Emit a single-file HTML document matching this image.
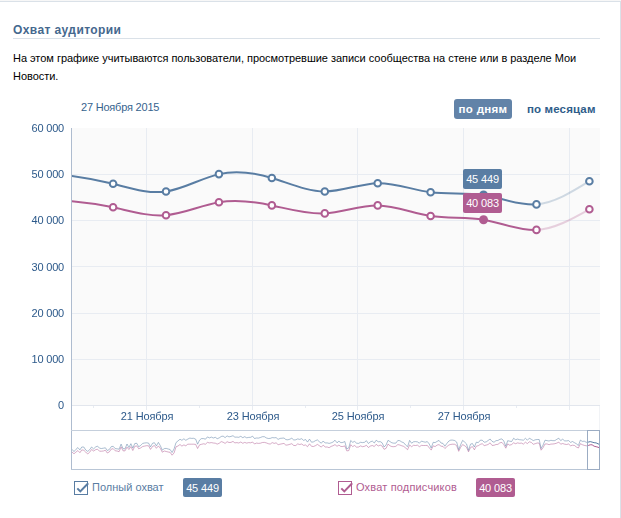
<!DOCTYPE html>
<html>
<head>
<meta charset="utf-8">
<title>Охват аудитории</title>
<style>
html,body{margin:0;padding:0;background:#fff;}
body{width:621px;height:518px;position:relative;overflow:hidden;font-family:"Liberation Sans",sans-serif;font-size:11px;color:#000;}
.abs{position:absolute;white-space:nowrap;}
#topb{left:0;top:0;width:621px;height:1px;background:#f7f7f7;border-bottom:1px solid #dae1e8;}
#rightb{left:620px;top:1px;width:1px;height:517px;background:#dae1e8;}
#title{left:13px;top:21px;font-size:12px;font-weight:bold;color:#45688e;line-height:18px;letter-spacing:0.4px;}
#hline{left:13px;top:38px;width:587px;height:1px;background:#dae1e8;}
.desc{left:13px;color:#000;font-size:11px;line-height:14px;letter-spacing:-0.03px;}
#date{left:81px;top:100px;color:#36638e;font-size:11px;line-height:14px;letter-spacing:-0.2px;}
#btn1{left:454px;top:99px;width:58px;height:20px;background:#6283a8;border-radius:3px;color:#fff;font-weight:bold;font-size:11.5px;letter-spacing:0.33px;line-height:20px;text-align:center;}
#btn2{left:527px;top:99px;color:#2f5d8a;font-weight:bold;font-size:11.5px;line-height:20px;letter-spacing:0.14px;}
.yl{left:0;width:64px;text-align:right;color:#2c598a;font-size:11px;line-height:14px;will-change:transform;letter-spacing:-0.2px;}
.xl{width:80px;text-align:center;color:#2c598a;font-size:11px;line-height:14px;top:409px;will-change:transform;letter-spacing:-0.1px;}
.tip{color:#fff;font-size:11px;line-height:20px;text-align:center;border-radius:2px;letter-spacing:-0.15px;}
.leg{font-size:11px;line-height:14px;top:480px;}
.badge{top:478px;height:19px;line-height:21px;color:#fff;font-size:11px;text-align:center;border-radius:2px;letter-spacing:-0.15px;}
</style>
</head>
<body>
<div class="abs" id="topb"></div>
<div class="abs" id="rightb"></div>
<div class="abs" id="title">Охват аудитории</div>
<div class="abs" id="hline"></div>
<div class="abs desc" style="top:51px;">На этом графике учитываются пользователи, просмотревшие записи сообщества на стене или в разделе Мои</div>
<div class="abs desc" style="top:69px;">Новости.</div>
<div class="abs" id="date">27 Ноября 2015</div>
<div class="abs" id="btn1">по дням</div>
<div class="abs" id="btn2">по месяцам</div>

<svg class="abs" id="chart" style="left:0;top:0;" width="621" height="518" viewBox="0 0 621 518">
  <!-- plot background -->
  <rect x="72" y="128" width="528" height="277" fill="#fafafa"/>
  <!-- horizontal grid -->
  <g stroke="#e8ecf2" stroke-width="1" shape-rendering="crispEdges">
    <line x1="72" x2="600" y1="174.5" y2="174.5"/>
    <line x1="72" x2="600" y1="220.5" y2="220.5"/>
    <line x1="72" x2="600" y1="266.5" y2="266.5"/>
    <line x1="72" x2="600" y1="313.5" y2="313.5"/>
    <line x1="72" x2="600" y1="359.5" y2="359.5"/>
  </g>
  <!-- vertical grid -->
  <g stroke="#e8ecf2" stroke-width="1" shape-rendering="crispEdges">
    <line x1="146.5" x2="146.5" y1="128" y2="410"/>
    <line x1="252.5" x2="252.5" y1="128" y2="410"/>
    <line x1="357.5" x2="357.5" y1="128" y2="410"/>
    <line x1="463.5" x2="463.5" y1="128" y2="410"/>
    <line x1="569.5" x2="569.5" y1="128" y2="410"/>
  </g>
  <!-- small ticks -->
  <g stroke="#e8ecf2" stroke-width="1" shape-rendering="crispEdges">
    <line x1="93.5" x2="93.5" y1="405" y2="408"/>
    <line x1="199.5" x2="199.5" y1="405" y2="408"/>
    <line x1="305.5" x2="305.5" y1="405" y2="408"/>
    <line x1="410.5" x2="410.5" y1="405" y2="408"/>
    <line x1="516.5" x2="516.5" y1="405" y2="408"/>
  </g>
  <!-- x axis -->
  <line x1="72" x2="600" y1="405.5" y2="405.5" stroke="#e2e6ed" shape-rendering="crispEdges"/>
  <!-- y axis -->
  <line x1="71.5" x2="71.5" y1="128" y2="470" stroke="#aebccf" shape-rendering="crispEdges"/>
  <!-- mini chart frame -->
  <line x1="71" x2="600" y1="430.5" y2="430.5" stroke="#c5cfdc" shape-rendering="crispEdges"/>
  <line x1="71" x2="600" y1="469.5" y2="469.5" stroke="#b9c6d6" shape-rendering="crispEdges"/>
  <line x1="599.5" x2="599.5" y1="406" y2="430" stroke="#f1f3f6" shape-rendering="crispEdges"/>
  <g id="mini"><defs><clipPath id="selclip"><rect x="588" y="431" width="12" height="39"/></clipPath><clipPath id="unselclip"><rect x="72" y="431" width="516" height="39"/></clipPath></defs><g fill="none" stroke-width="1" stroke-linejoin="round"><g clip-path="url(#unselclip)" stroke-opacity="0.5"><path d="M72.0 452.0 L74.0 453.8 L75.9 452.1 L77.9 450.6 L79.9 452.7 L81.8 449.9 L83.8 450.3 L85.7 452.0 L87.7 454.0 L89.7 452.2 L91.6 449.5 L93.6 451.0 L95.6 449.7 L97.5 449.2 L99.5 451.2 L101.4 451.2 L103.4 451.0 L105.4 450.2 L107.3 453.0 L109.3 451.9 L111.3 449.1 L113.2 448.7 L115.2 450.8 L117.1 451.0 L119.1 451.7 L121.1 446.9 L123.0 450.8 L125.0 450.9 L127.0 447.1 L128.9 449.5 L130.9 446.6 L132.8 450.5 L134.8 446.3 L136.8 445.9 L138.7 448.8 L140.7 447.9 L142.7 446.5 L144.6 446.1 L146.6 445.7 L148.6 445.8 L150.5 449.4 L152.5 446.5 L154.4 445.5 L156.4 448.3 L158.4 445.9 L160.3 448.3 L162.3 452.2 L164.3 451.0 L166.2 451.5 L168.2 452.0 L170.1 452.3 L172.1 455.2 L174.1 452.9 L176.0 446.8 L178.0 446.0 L180.0 444.5 L181.9 446.1 L183.9 444.9 L185.8 445.8 L187.8 444.2 L189.8 444.2 L191.7 444.2 L193.7 444.2 L195.7 444.4 L197.6 448.5 L199.6 444.8 L201.5 444.3 L203.5 443.8 L205.5 444.2 L207.4 442.4 L209.4 442.9 L211.4 442.6 L213.3 443.0 L215.3 443.2 L217.2 444.1 L219.2 443.3 L221.2 441.6 L223.1 442.2 L225.1 443.4 L227.1 441.7 L229.0 442.5 L231.0 442.4 L233.0 441.4 L234.9 442.9 L236.9 442.6 L238.8 443.0 L240.8 442.0 L242.8 443.3 L244.7 442.4 L246.7 443.1 L248.7 442.6 L250.6 442.8 L252.6 442.0 L254.5 444.0 L256.5 443.1 L258.5 443.4 L260.4 443.2 L262.4 442.5 L264.4 442.4 L266.3 442.9 L268.3 443.7 L270.2 444.1 L272.2 442.6 L274.2 443.4 L276.1 442.8 L278.1 444.7 L280.1 444.2 L282.0 443.8 L284.0 443.4 L285.9 445.2 L287.9 444.9 L289.9 444.3 L291.8 443.7 L293.8 445.5 L295.8 445.5 L297.7 443.9 L299.7 444.5 L301.7 444.0 L303.6 445.4 L305.6 445.0 L307.5 446.7 L309.5 443.8 L311.5 446.3 L313.4 446.5 L315.4 445.7 L317.4 444.4 L319.3 445.7 L321.3 447.1 L323.2 445.1 L325.2 447.0 L327.2 447.0 L329.1 447.7 L331.1 446.4 L333.1 445.7 L335.0 444.6 L337.0 446.3 L338.9 445.1 L340.9 446.5 L342.9 446.5 L344.8 445.9 L346.8 450.9 L348.8 450.6 L350.7 444.7 L352.7 446.6 L354.6 445.5 L356.6 447.2 L358.6 447.0 L360.5 445.9 L362.5 446.7 L364.5 446.3 L366.4 445.3 L368.4 447.5 L370.3 446.1 L372.3 445.5 L374.3 446.5 L376.2 444.3 L378.2 446.0 L380.2 445.1 L382.1 446.0 L384.1 449.3 L386.1 448.3 L388.0 444.1 L390.0 445.8 L391.9 446.6 L393.9 446.7 L395.9 446.3 L397.8 444.6 L399.8 445.0 L401.8 445.8 L403.7 446.4 L405.7 448.0 L407.6 449.7 L409.6 444.9 L411.6 446.7 L413.5 445.3 L415.5 445.5 L417.5 445.2 L419.4 446.7 L421.4 445.4 L423.3 445.5 L425.3 445.5 L427.3 445.4 L429.2 447.7 L431.2 450.1 L433.2 445.8 L435.1 446.6 L437.1 445.1 L439.0 444.6 L441.0 446.2 L443.0 446.4 L444.9 448.5 L446.9 446.6 L448.9 445.0 L450.8 444.4 L452.8 444.2 L454.8 444.3 L456.7 445.7 L458.7 451.3 L460.6 447.4 L462.6 444.6 L464.6 445.7 L466.5 447.2 L468.5 451.8 L470.5 447.6 L472.4 446.6 L474.4 449.8 L476.3 446.2 L478.3 445.7 L480.3 444.4 L482.2 443.7 L484.2 445.6 L486.2 445.1 L488.1 444.5 L490.1 442.8 L492.0 445.4 L494.0 445.3 L496.0 444.5 L497.9 444.4 L499.9 442.8 L501.9 442.4 L503.8 444.6 L505.8 448.2 L507.7 443.9 L509.7 445.2 L511.7 444.5 L513.6 442.8 L515.6 443.7 L517.6 442.9 L519.5 443.3 L521.5 443.1 L523.4 444.1 L525.4 442.2 L527.4 443.6 L529.3 441.8 L531.3 442.4 L533.3 444.3 L535.2 443.7 L537.2 443.0 L539.2 443.1 L541.1 450.2 L543.1 447.6 L545.0 444.0 L547.0 443.9 L549.0 444.7 L550.9 444.1 L552.9 444.0 L554.9 443.7 L556.8 443.1 L558.8 442.1 L560.7 444.2 L562.7 443.5 L564.7 444.2 L566.6 444.5 L568.6 444.0 L570.6 445.8 L572.5 445.2 L574.5 445.5 L576.4 447.0 L578.4 448.0 L580.4 443.7 L582.3 444.7 L584.3 445.4 L586.3 445.8 L588.2 445.5 L590.2 444.8 L592.1 444.8 L594.1 446.2 L596.1 446.7 L598.0 447.2 L600.0 448.1" stroke="#b05c91"/><path d="M72.0 449.3 L74.0 451.6 L75.9 449.4 L77.9 447.6 L79.9 449.9 L81.8 447.0 L83.8 447.0 L85.7 450.0 L87.7 451.4 L89.7 449.7 L91.6 447.0 L93.6 448.9 L95.6 447.0 L97.5 446.1 L99.5 448.2 L101.4 448.5 L103.4 448.2 L105.4 447.8 L107.3 450.5 L109.3 449.5 L111.3 446.6 L113.2 446.3 L115.2 448.6 L117.1 448.8 L119.1 449.2 L121.1 444.1 L123.0 448.7 L125.0 448.9 L127.0 444.0 L128.9 447.5 L130.9 443.7 L132.8 448.1 L134.8 443.5 L136.8 443.3 L138.7 446.8 L140.7 445.4 L142.7 443.4 L144.6 443.0 L146.6 442.8 L148.6 443.1 L150.5 446.9 L152.5 443.3 L154.4 442.7 L156.4 445.9 L158.4 442.4 L160.3 445.6 L162.3 450.1 L164.3 448.6 L166.2 448.4 L168.2 449.0 L170.1 449.5 L172.1 452.5 L174.1 448.8 L176.0 442.6 L178.0 440.9 L180.0 439.2 L181.9 440.3 L183.9 438.8 L185.8 440.3 L187.8 439.1 L189.8 438.1 L191.7 438.4 L193.7 438.3 L195.7 439.2 L197.6 444.2 L199.6 440.0 L201.5 438.6 L203.5 438.6 L205.5 439.2 L207.4 436.9 L209.4 437.9 L211.4 437.1 L213.3 438.0 L215.3 437.3 L217.2 438.7 L219.2 437.9 L221.2 436.5 L223.1 436.1 L225.1 437.6 L227.1 435.9 L229.0 436.9 L231.0 436.4 L233.0 435.7 L234.9 437.2 L236.9 437.1 L238.8 437.3 L240.8 436.3 L242.8 437.7 L244.7 436.7 L246.7 437.8 L248.7 437.4 L250.6 437.3 L252.6 436.2 L254.5 438.5 L256.5 438.0 L258.5 438.1 L260.4 437.5 L262.4 436.7 L264.4 436.7 L266.3 437.9 L268.3 438.5 L270.2 438.4 L272.2 437.6 L274.2 437.8 L276.1 437.6 L278.1 439.4 L280.1 438.4 L282.0 438.2 L284.0 438.0 L285.9 439.6 L287.9 439.8 L289.9 439.2 L291.8 438.2 L293.8 440.0 L295.8 439.8 L297.7 438.9 L299.7 439.4 L301.7 438.7 L303.6 440.4 L305.6 439.5 L307.5 442.1 L309.5 439.1 L311.5 442.2 L313.4 441.9 L315.4 440.7 L317.4 439.9 L319.3 441.7 L321.3 443.2 L323.2 441.0 L325.2 443.0 L327.2 442.9 L329.1 443.4 L331.1 442.9 L333.1 442.0 L335.0 440.2 L337.0 442.8 L338.9 441.2 L340.9 442.7 L342.9 442.4 L344.8 441.5 L346.8 449.0 L348.8 447.8 L350.7 440.5 L352.7 442.3 L354.6 441.4 L356.6 443.2 L358.6 443.4 L360.5 442.3 L362.5 442.6 L364.5 442.3 L366.4 440.7 L368.4 443.5 L370.3 441.9 L372.3 441.1 L374.3 443.0 L376.2 440.2 L378.2 441.8 L380.2 441.6 L382.1 442.8 L384.1 447.0 L386.1 444.9 L388.0 440.3 L390.0 441.6 L391.9 442.8 L393.9 443.2 L395.9 443.1 L397.8 440.5 L399.8 440.7 L401.8 442.0 L403.7 442.7 L405.7 445.1 L407.6 446.7 L409.6 440.4 L411.6 443.2 L413.5 441.8 L415.5 441.6 L417.5 441.9 L419.4 443.2 L421.4 441.1 L423.3 441.7 L425.3 442.2 L427.3 441.6 L429.2 443.9 L431.2 448.0 L433.2 442.3 L435.1 442.6 L437.1 441.4 L439.0 440.4 L441.0 443.0 L443.0 443.4 L444.9 446.2 L446.9 443.4 L448.9 441.0 L450.8 440.1 L452.8 440.1 L454.8 440.6 L456.7 442.1 L458.7 449.7 L460.6 444.8 L462.6 440.4 L464.6 442.0 L466.5 443.9 L468.5 450.4 L470.5 444.2 L472.4 443.5 L474.4 447.0 L476.3 442.2 L478.3 442.6 L480.3 440.2 L482.2 440.2 L484.2 442.2 L486.2 441.9 L488.1 440.5 L490.1 439.0 L492.0 441.3 L494.0 442.3 L496.0 440.6 L497.9 440.5 L499.9 439.3 L501.9 438.9 L503.8 441.0 L505.8 446.3 L507.7 440.7 L509.7 441.2 L511.7 441.5 L513.6 438.3 L515.6 439.7 L517.6 439.1 L519.5 439.7 L521.5 439.9 L523.4 440.2 L525.4 438.3 L527.4 440.2 L529.3 438.2 L531.3 439.3 L533.3 440.6 L535.2 439.8 L537.2 439.5 L539.2 439.5 L541.1 448.5 L543.1 445.0 L545.0 440.2 L547.0 440.6 L549.0 441.0 L550.9 440.3 L552.9 440.7 L554.9 440.6 L556.8 439.3 L558.8 438.2 L560.7 440.6 L562.7 439.2 L564.7 440.9 L566.6 440.9 L568.6 440.6 L570.6 442.4 L572.5 441.5 L574.5 442.7 L576.4 443.8 L578.4 445.5 L580.4 440.1 L582.3 441.4 L584.3 441.2 L586.3 442.3 L588.2 442.1 L590.2 441.6 L592.1 442.1 L594.1 442.7 L596.1 442.9 L598.0 443.8 L600.0 444.6" stroke="#597da3"/></g><g clip-path="url(#selclip)"><path d="M72.0 452.0 L74.0 453.8 L75.9 452.1 L77.9 450.6 L79.9 452.7 L81.8 449.9 L83.8 450.3 L85.7 452.0 L87.7 454.0 L89.7 452.2 L91.6 449.5 L93.6 451.0 L95.6 449.7 L97.5 449.2 L99.5 451.2 L101.4 451.2 L103.4 451.0 L105.4 450.2 L107.3 453.0 L109.3 451.9 L111.3 449.1 L113.2 448.7 L115.2 450.8 L117.1 451.0 L119.1 451.7 L121.1 446.9 L123.0 450.8 L125.0 450.9 L127.0 447.1 L128.9 449.5 L130.9 446.6 L132.8 450.5 L134.8 446.3 L136.8 445.9 L138.7 448.8 L140.7 447.9 L142.7 446.5 L144.6 446.1 L146.6 445.7 L148.6 445.8 L150.5 449.4 L152.5 446.5 L154.4 445.5 L156.4 448.3 L158.4 445.9 L160.3 448.3 L162.3 452.2 L164.3 451.0 L166.2 451.5 L168.2 452.0 L170.1 452.3 L172.1 455.2 L174.1 452.9 L176.0 446.8 L178.0 446.0 L180.0 444.5 L181.9 446.1 L183.9 444.9 L185.8 445.8 L187.8 444.2 L189.8 444.2 L191.7 444.2 L193.7 444.2 L195.7 444.4 L197.6 448.5 L199.6 444.8 L201.5 444.3 L203.5 443.8 L205.5 444.2 L207.4 442.4 L209.4 442.9 L211.4 442.6 L213.3 443.0 L215.3 443.2 L217.2 444.1 L219.2 443.3 L221.2 441.6 L223.1 442.2 L225.1 443.4 L227.1 441.7 L229.0 442.5 L231.0 442.4 L233.0 441.4 L234.9 442.9 L236.9 442.6 L238.8 443.0 L240.8 442.0 L242.8 443.3 L244.7 442.4 L246.7 443.1 L248.7 442.6 L250.6 442.8 L252.6 442.0 L254.5 444.0 L256.5 443.1 L258.5 443.4 L260.4 443.2 L262.4 442.5 L264.4 442.4 L266.3 442.9 L268.3 443.7 L270.2 444.1 L272.2 442.6 L274.2 443.4 L276.1 442.8 L278.1 444.7 L280.1 444.2 L282.0 443.8 L284.0 443.4 L285.9 445.2 L287.9 444.9 L289.9 444.3 L291.8 443.7 L293.8 445.5 L295.8 445.5 L297.7 443.9 L299.7 444.5 L301.7 444.0 L303.6 445.4 L305.6 445.0 L307.5 446.7 L309.5 443.8 L311.5 446.3 L313.4 446.5 L315.4 445.7 L317.4 444.4 L319.3 445.7 L321.3 447.1 L323.2 445.1 L325.2 447.0 L327.2 447.0 L329.1 447.7 L331.1 446.4 L333.1 445.7 L335.0 444.6 L337.0 446.3 L338.9 445.1 L340.9 446.5 L342.9 446.5 L344.8 445.9 L346.8 450.9 L348.8 450.6 L350.7 444.7 L352.7 446.6 L354.6 445.5 L356.6 447.2 L358.6 447.0 L360.5 445.9 L362.5 446.7 L364.5 446.3 L366.4 445.3 L368.4 447.5 L370.3 446.1 L372.3 445.5 L374.3 446.5 L376.2 444.3 L378.2 446.0 L380.2 445.1 L382.1 446.0 L384.1 449.3 L386.1 448.3 L388.0 444.1 L390.0 445.8 L391.9 446.6 L393.9 446.7 L395.9 446.3 L397.8 444.6 L399.8 445.0 L401.8 445.8 L403.7 446.4 L405.7 448.0 L407.6 449.7 L409.6 444.9 L411.6 446.7 L413.5 445.3 L415.5 445.5 L417.5 445.2 L419.4 446.7 L421.4 445.4 L423.3 445.5 L425.3 445.5 L427.3 445.4 L429.2 447.7 L431.2 450.1 L433.2 445.8 L435.1 446.6 L437.1 445.1 L439.0 444.6 L441.0 446.2 L443.0 446.4 L444.9 448.5 L446.9 446.6 L448.9 445.0 L450.8 444.4 L452.8 444.2 L454.8 444.3 L456.7 445.7 L458.7 451.3 L460.6 447.4 L462.6 444.6 L464.6 445.7 L466.5 447.2 L468.5 451.8 L470.5 447.6 L472.4 446.6 L474.4 449.8 L476.3 446.2 L478.3 445.7 L480.3 444.4 L482.2 443.7 L484.2 445.6 L486.2 445.1 L488.1 444.5 L490.1 442.8 L492.0 445.4 L494.0 445.3 L496.0 444.5 L497.9 444.4 L499.9 442.8 L501.9 442.4 L503.8 444.6 L505.8 448.2 L507.7 443.9 L509.7 445.2 L511.7 444.5 L513.6 442.8 L515.6 443.7 L517.6 442.9 L519.5 443.3 L521.5 443.1 L523.4 444.1 L525.4 442.2 L527.4 443.6 L529.3 441.8 L531.3 442.4 L533.3 444.3 L535.2 443.7 L537.2 443.0 L539.2 443.1 L541.1 450.2 L543.1 447.6 L545.0 444.0 L547.0 443.9 L549.0 444.7 L550.9 444.1 L552.9 444.0 L554.9 443.7 L556.8 443.1 L558.8 442.1 L560.7 444.2 L562.7 443.5 L564.7 444.2 L566.6 444.5 L568.6 444.0 L570.6 445.8 L572.5 445.2 L574.5 445.5 L576.4 447.0 L578.4 448.0 L580.4 443.7 L582.3 444.7 L584.3 445.4 L586.3 445.8 L588.2 445.5 L590.2 444.8 L592.1 444.8 L594.1 446.2 L596.1 446.7 L598.0 447.2 L600.0 448.1" stroke="#b05c91"/><path d="M72.0 449.3 L74.0 451.6 L75.9 449.4 L77.9 447.6 L79.9 449.9 L81.8 447.0 L83.8 447.0 L85.7 450.0 L87.7 451.4 L89.7 449.7 L91.6 447.0 L93.6 448.9 L95.6 447.0 L97.5 446.1 L99.5 448.2 L101.4 448.5 L103.4 448.2 L105.4 447.8 L107.3 450.5 L109.3 449.5 L111.3 446.6 L113.2 446.3 L115.2 448.6 L117.1 448.8 L119.1 449.2 L121.1 444.1 L123.0 448.7 L125.0 448.9 L127.0 444.0 L128.9 447.5 L130.9 443.7 L132.8 448.1 L134.8 443.5 L136.8 443.3 L138.7 446.8 L140.7 445.4 L142.7 443.4 L144.6 443.0 L146.6 442.8 L148.6 443.1 L150.5 446.9 L152.5 443.3 L154.4 442.7 L156.4 445.9 L158.4 442.4 L160.3 445.6 L162.3 450.1 L164.3 448.6 L166.2 448.4 L168.2 449.0 L170.1 449.5 L172.1 452.5 L174.1 448.8 L176.0 442.6 L178.0 440.9 L180.0 439.2 L181.9 440.3 L183.9 438.8 L185.8 440.3 L187.8 439.1 L189.8 438.1 L191.7 438.4 L193.7 438.3 L195.7 439.2 L197.6 444.2 L199.6 440.0 L201.5 438.6 L203.5 438.6 L205.5 439.2 L207.4 436.9 L209.4 437.9 L211.4 437.1 L213.3 438.0 L215.3 437.3 L217.2 438.7 L219.2 437.9 L221.2 436.5 L223.1 436.1 L225.1 437.6 L227.1 435.9 L229.0 436.9 L231.0 436.4 L233.0 435.7 L234.9 437.2 L236.9 437.1 L238.8 437.3 L240.8 436.3 L242.8 437.7 L244.7 436.7 L246.7 437.8 L248.7 437.4 L250.6 437.3 L252.6 436.2 L254.5 438.5 L256.5 438.0 L258.5 438.1 L260.4 437.5 L262.4 436.7 L264.4 436.7 L266.3 437.9 L268.3 438.5 L270.2 438.4 L272.2 437.6 L274.2 437.8 L276.1 437.6 L278.1 439.4 L280.1 438.4 L282.0 438.2 L284.0 438.0 L285.9 439.6 L287.9 439.8 L289.9 439.2 L291.8 438.2 L293.8 440.0 L295.8 439.8 L297.7 438.9 L299.7 439.4 L301.7 438.7 L303.6 440.4 L305.6 439.5 L307.5 442.1 L309.5 439.1 L311.5 442.2 L313.4 441.9 L315.4 440.7 L317.4 439.9 L319.3 441.7 L321.3 443.2 L323.2 441.0 L325.2 443.0 L327.2 442.9 L329.1 443.4 L331.1 442.9 L333.1 442.0 L335.0 440.2 L337.0 442.8 L338.9 441.2 L340.9 442.7 L342.9 442.4 L344.8 441.5 L346.8 449.0 L348.8 447.8 L350.7 440.5 L352.7 442.3 L354.6 441.4 L356.6 443.2 L358.6 443.4 L360.5 442.3 L362.5 442.6 L364.5 442.3 L366.4 440.7 L368.4 443.5 L370.3 441.9 L372.3 441.1 L374.3 443.0 L376.2 440.2 L378.2 441.8 L380.2 441.6 L382.1 442.8 L384.1 447.0 L386.1 444.9 L388.0 440.3 L390.0 441.6 L391.9 442.8 L393.9 443.2 L395.9 443.1 L397.8 440.5 L399.8 440.7 L401.8 442.0 L403.7 442.7 L405.7 445.1 L407.6 446.7 L409.6 440.4 L411.6 443.2 L413.5 441.8 L415.5 441.6 L417.5 441.9 L419.4 443.2 L421.4 441.1 L423.3 441.7 L425.3 442.2 L427.3 441.6 L429.2 443.9 L431.2 448.0 L433.2 442.3 L435.1 442.6 L437.1 441.4 L439.0 440.4 L441.0 443.0 L443.0 443.4 L444.9 446.2 L446.9 443.4 L448.9 441.0 L450.8 440.1 L452.8 440.1 L454.8 440.6 L456.7 442.1 L458.7 449.7 L460.6 444.8 L462.6 440.4 L464.6 442.0 L466.5 443.9 L468.5 450.4 L470.5 444.2 L472.4 443.5 L474.4 447.0 L476.3 442.2 L478.3 442.6 L480.3 440.2 L482.2 440.2 L484.2 442.2 L486.2 441.9 L488.1 440.5 L490.1 439.0 L492.0 441.3 L494.0 442.3 L496.0 440.6 L497.9 440.5 L499.9 439.3 L501.9 438.9 L503.8 441.0 L505.8 446.3 L507.7 440.7 L509.7 441.2 L511.7 441.5 L513.6 438.3 L515.6 439.7 L517.6 439.1 L519.5 439.7 L521.5 439.9 L523.4 440.2 L525.4 438.3 L527.4 440.2 L529.3 438.2 L531.3 439.3 L533.3 440.6 L535.2 439.8 L537.2 439.5 L539.2 439.5 L541.1 448.5 L543.1 445.0 L545.0 440.2 L547.0 440.6 L549.0 441.0 L550.9 440.3 L552.9 440.7 L554.9 440.6 L556.8 439.3 L558.8 438.2 L560.7 440.6 L562.7 439.2 L564.7 440.9 L566.6 440.9 L568.6 440.6 L570.6 442.4 L572.5 441.5 L574.5 442.7 L576.4 443.8 L578.4 445.5 L580.4 440.1 L582.3 441.4 L584.3 441.2 L586.3 442.3 L588.2 442.1 L590.2 441.6 L592.1 442.1 L594.1 442.7 L596.1 442.9 L598.0 443.8 L600.0 444.6" stroke="#597da3"/></g></g></g>
  <rect x="587.5" y="430.5" width="12" height="39" fill="none" stroke="#9bacc3" shape-rendering="crispEdges"/>
  <g id="lines"><defs><clipPath id="plotclip"><rect x="72" y="120" width="528" height="290"/></clipPath></defs><g fill="none" stroke="#597da3" stroke-width="2" stroke-linecap="round" clip-path="url(#plotclip)"><path d="M60.18 174.60 C77.82 176.26 95.46 179.36 113.10 183.80 M113.10 183.80 C130.74 188.24 148.38 194.01 166.02 191.50 M166.02 191.50 C183.66 188.99 201.30 178.19 218.94 174.10 M218.94 174.10 C236.58 170.01 254.22 172.64 271.86 178.00 M271.86 178.00 C289.50 183.36 307.14 191.44 324.78 191.50 M324.78 191.50 C342.42 191.56 360.06 183.60 377.70 183.20 M377.70 183.20 C395.34 182.80 412.98 189.95 430.62 192.30 M430.62 192.30 C448.26 194.65 465.90 192.21 483.54 195.00 M483.54 195.00 C501.18 197.79 518.82 205.83 536.46 204.40"/><path d="M536.46 204.40 C554.10 202.97 571.74 192.09 589.38 181.20" stroke-opacity="0.27"/></g><circle cx="113.10" cy="183.80" r="3.3" fill="#fff" stroke="#597da3" stroke-width="2"/><circle cx="166.02" cy="191.50" r="3.3" fill="#fff" stroke="#597da3" stroke-width="2"/><circle cx="218.94" cy="174.10" r="3.3" fill="#fff" stroke="#597da3" stroke-width="2"/><circle cx="271.86" cy="178.00" r="3.3" fill="#fff" stroke="#597da3" stroke-width="2"/><circle cx="324.78" cy="191.50" r="3.3" fill="#fff" stroke="#597da3" stroke-width="2"/><circle cx="377.70" cy="183.20" r="3.3" fill="#fff" stroke="#597da3" stroke-width="2"/><circle cx="430.62" cy="192.30" r="3.3" fill="#fff" stroke="#597da3" stroke-width="2"/><circle cx="483.54" cy="195.00" r="4.5" fill="#597da3"/><circle cx="536.46" cy="204.40" r="3.3" fill="#fff" stroke="#597da3" stroke-width="2"/><circle cx="589.38" cy="181.20" r="3.3" fill="#fff" stroke="#597da3" stroke-width="2"/><g fill="none" stroke="#b05c91" stroke-width="2" stroke-linecap="round" clip-path="url(#plotclip)"><path d="M60.18 200.30 C77.82 201.35 95.46 203.48 113.10 207.30 M113.10 207.30 C130.74 211.12 148.38 216.65 166.02 215.20 M166.02 215.20 C183.66 213.75 201.30 205.33 218.94 202.30 M218.94 202.30 C236.58 199.27 254.22 201.62 271.86 205.40 M271.86 205.40 C289.50 209.18 307.14 214.40 324.78 213.40 M324.78 213.40 C342.42 212.40 360.06 205.19 377.70 205.40 M377.70 205.40 C395.34 205.61 412.98 213.23 430.62 216.00 M430.62 216.00 C448.26 218.77 465.90 216.70 483.54 219.70 M483.54 219.70 C501.18 222.70 518.82 230.79 536.46 229.90"/><path d="M536.46 229.90 C554.10 229.01 571.74 219.16 589.38 209.30" stroke-opacity="0.27"/></g><circle cx="113.10" cy="207.30" r="3.3" fill="#fff" stroke="#b05c91" stroke-width="2"/><circle cx="166.02" cy="215.20" r="3.3" fill="#fff" stroke="#b05c91" stroke-width="2"/><circle cx="218.94" cy="202.30" r="3.3" fill="#fff" stroke="#b05c91" stroke-width="2"/><circle cx="271.86" cy="205.40" r="3.3" fill="#fff" stroke="#b05c91" stroke-width="2"/><circle cx="324.78" cy="213.40" r="3.3" fill="#fff" stroke="#b05c91" stroke-width="2"/><circle cx="377.70" cy="205.40" r="3.3" fill="#fff" stroke="#b05c91" stroke-width="2"/><circle cx="430.62" cy="216.00" r="3.3" fill="#fff" stroke="#b05c91" stroke-width="2"/><circle cx="483.54" cy="219.70" r="4.5" fill="#b05c91"/><circle cx="536.46" cy="229.90" r="3.3" fill="#fff" stroke="#b05c91" stroke-width="2"/><circle cx="589.38" cy="209.30" r="3.3" fill="#fff" stroke="#b05c91" stroke-width="2"/></g>
</svg>

<div class="abs yl" style="top:121px;">60 000</div>
<div class="abs yl" style="top:167px;">50 000</div>
<div class="abs yl" style="top:213px;">40 000</div>
<div class="abs yl" style="top:260px;">30 000</div>
<div class="abs yl" style="top:306px;">20 000</div>
<div class="abs yl" style="top:352px;">10 000</div>
<div class="abs yl" style="top:398px;">0</div>

<div class="abs xl" style="left:106.5px;">21 Ноября</div>
<div class="abs xl" style="left:212.5px;">23 Ноября</div>
<div class="abs xl" style="left:317.5px;">25 Ноября</div>
<div class="abs xl" style="left:423.5px;">27 Ноября</div>

<div class="abs tip" style="left:463px;top:169px;width:39px;height:20px;background:#597da3;">45 449</div>
<div class="abs tip" style="left:463px;top:193px;width:39px;height:20px;background:#b05c91;">40 083</div>

<svg class="abs" style="left:74px;top:481px;" width="16" height="14" viewBox="0 0 16 14"><rect x="0.5" y="0.5" width="13" height="13" fill="#fff" stroke="#597da3"/><path d="M3.3 7.4 L6.3 10.4 L14.2 2.2" fill="none" stroke="#597da3" stroke-width="2"/></svg>
<div class="abs leg" style="left:92px;color:#597da3;">Полный охват</div>
<div class="abs badge" style="left:183px;width:39px;background:#597da3;">45 449</div>

<svg class="abs" style="left:338px;top:481px;" width="16" height="14" viewBox="0 0 16 14"><rect x="0.5" y="0.5" width="13" height="13" fill="#fff" stroke="#b05c91"/><path d="M3.3 7.4 L6.3 10.4 L14.2 2.2" fill="none" stroke="#b05c91" stroke-width="2"/></svg>
<div class="abs leg" style="left:356px;color:#b05c91;letter-spacing:0.17px;">Охват подписчиков</div>
<div class="abs badge" style="left:476px;width:39px;background:#b05c91;">40 083</div>

</body>
</html>
